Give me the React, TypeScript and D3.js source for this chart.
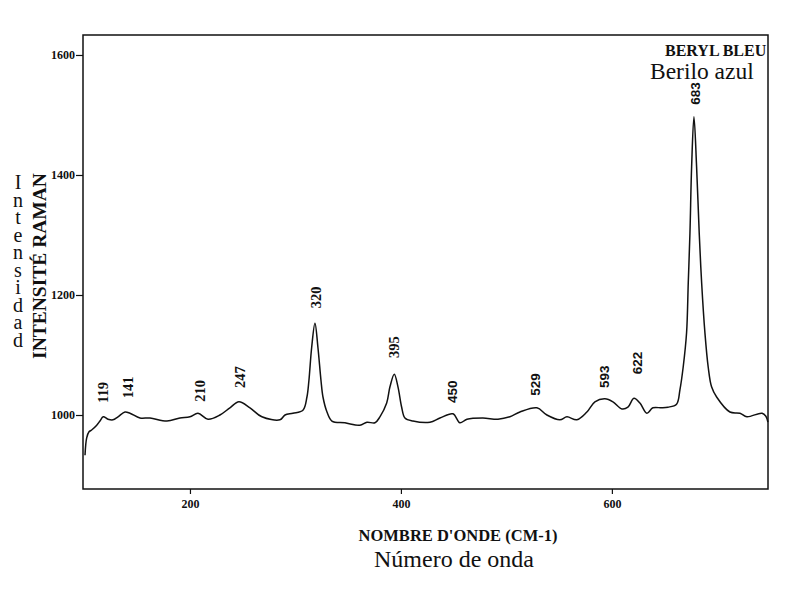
import React, { useRef, useEffect } from 'react';
import * as d3 from 'd3';

// Raman spectrum of blue beryl
const waveNumbers = [
  100.5, 102.1, 104.3, 106.8, 111.6, 114.7, 117.8, 122.3, 127, 131.8, 138.4, 143.1, 152.6, 162.1,
  178.2, 190.5, 200, 207.6, 217.1, 228.4, 237.9, 246.4, 256.9, 268.2, 285.3, 290.1, 297.6, 307.1,
  310.9, 312.8, 315.4, 318.5, 321.3, 324.2, 326.1, 329.9, 334.6, 346.9, 361.1, 367.8, 375.4, 380.1,
  386.5, 389.6, 393.7, 397.2, 400.7, 403.8, 411.4, 427.5, 437, 449.3, 455.9, 462.6, 477.7, 492,
  503.3, 512.8, 528.9, 538.4, 550.7, 557.4, 566.8, 576.3, 583.9, 593.4, 601, 609.5, 615.2, 620.9,
  626.6, 633.2, 638.9, 647.4, 653.1, 661.3, 664.5, 667.6, 670.8, 672.4, 674, 675.6, 677.8, 680.3,
  682.8, 685.1, 688.2, 691.3, 694.5, 699.3, 711.9, 721.4, 728, 742.2, 746, 747.9
];
const intensities = [
  933, 962, 972, 975, 983, 990, 997, 993, 992, 997, 1005, 1003, 995, 995,
  990, 995, 997, 1003, 993, 1000, 1012, 1022, 1012, 997, 992, 1000, 1003, 1008,
  1030, 1058, 1113, 1153, 1113, 1058, 1030, 1005, 990, 987, 983, 988, 987, 997,
  1020, 1047, 1068, 1047, 1013, 995, 990, 988, 995, 1002, 987, 993, 995, 993,
  997, 1005, 1012, 1000, 992, 997, 992, 1005, 1022, 1027, 1022, 1010, 1013, 1028,
  1020, 1003, 1012, 1012, 1013, 1018, 1042, 1080, 1137, 1220, 1303, 1414, 1497, 1414,
  1303, 1220, 1137, 1080, 1047, 1030, 1005, 1003, 997, 1003, 998, 988
];

// peak annotations: text, where it sits on the wavenumber axis, intensity at the text foot
const peakLabels = ['119', '141', '210', '247', '320', '395', '450', '529', '593', '622', '683'];
const peakLabelAt = [117.5, 141.2, 209.5, 247.4, 319.4, 393.4, 448.4, 527, 592.4, 623.7, 678.7];
const peakLabelLevel = [1020, 1028, 1022, 1045, 1178, 1095, 1020, 1032, 1045, 1068, 1517];

const xTicks = [200, 400, 600];
const yTicks = [1000, 1200, 1400, 1600];
const xDomain = [98.6, 748];
const yDomain = [876.7, 1633.3];

const serif = '"Liberation Serif", "Times New Roman", serif';
const narrow = '"Liberation Sans Narrow", "Liberation Sans", Arial, sans-serif';

const App: React.FC = () => {
  const svgRef = useRef<SVGSVGElement>(null);
  const width = 800;
  const height = 589;
  const margin = { top: 35, right: 32, bottom: 100, left: 83 };

  useEffect(() => {
    if (!svgRef.current) return;
    const svg = d3.select(svgRef.current);
    svg.selectAll('*').remove();

    const x = d3.scaleLinear().domain(xDomain).range([margin.left, width - margin.right]);
    const y = d3.scaleLinear().domain(yDomain).range([height - margin.bottom, margin.top]);

    svg.append('rect')
      .attr('width', width)
      .attr('height', height)
      .attr('fill', '#fff');

    // frame
    svg.append('rect')
      .attr('x', margin.left)
      .attr('y', margin.top)
      .attr('width', width - margin.left - margin.right)
      .attr('height', height - margin.top - margin.bottom)
      .attr('fill', 'none')
      .attr('stroke', '#111')
      .attr('stroke-width', 1.5);

    // axes
    const yAxis = svg.append('g')
      .attr('transform', `translate(${margin.left},0)`)
      .call(d3.axisLeft(y).tickValues(yTicks).tickSize(7).tickPadding(1).tickFormat(d3.format('d')));
    yAxis.select('.domain').remove();
    yAxis.selectAll('line').attr('stroke', '#111').attr('stroke-width', 1.2);
    yAxis.selectAll('text')
      .attr('font-family', serif)
      .attr('font-weight', 'bold')
      .attr('font-size', 12)
      .attr('fill', '#111');

    const xAxis = svg.append('g')
      .attr('transform', `translate(0,${height - margin.bottom})`)
      .call(d3.axisBottom(x).tickValues(xTicks).tickSize(5).tickPadding(5).tickFormat(d3.format('d')));
    xAxis.select('.domain').remove();
    xAxis.selectAll('line').attr('stroke', '#111').attr('stroke-width', 1.2);
    xAxis.selectAll('text')
      .attr('font-family', serif)
      .attr('font-weight', 'bold')
      .attr('font-size', 12)
      .attr('fill', '#111');

    // spectrum
    const points: [number, number][] = waveNumbers.map((w, i) => [w, intensities[i]]);
    const line = d3.line<[number, number]>()
      .x(d => x(d[0]))
      .y(d => y(d[1]))
      .curve(d3.curveCatmullRom.alpha(0.5));

    svg.append('path')
      .datum(points)
      .attr('d', line)
      .attr('fill', 'none')
      .attr('stroke', '#111')
      .attr('stroke-width', 1.5)
      .attr('stroke-linejoin', 'round');

    // peak labels
    peakLabels.forEach((label, i) => {
      const px = x(peakLabelAt[i]);
      const py = y(peakLabelLevel[i]);
      svg.append('text')
        .attr('transform', `translate(${px},${py}) rotate(-90)`)
        .attr('dy', '0.35em')
        .attr('text-anchor', 'start')
        .attr('font-family', i < 6 ? serif : narrow)
        .attr('font-weight', 'bold')
        .attr('font-size', i < 6 ? 14.5 : 13.5)
        .attr('fill', '#111')
        .text(label);
    });

    // titles
    svg.append('text')
      .attr('x', 665)
      .attr('y', 56)
      .attr('font-family', serif)
      .attr('font-weight', 'bold')
      .attr('font-size', 16)
      .attr('fill', '#111')
      .text('BERYL BLEU');

    svg.append('text')
      .attr('x', 650)
      .attr('y', 79)
      .attr('font-family', serif)
      .attr('font-size', 23.5)
      .attr('fill', '#111')
      .text('Berilo azul');

    svg.append('text')
      .attr('x', 458)
      .attr('y', 541)
      .attr('text-anchor', 'middle')
      .attr('font-family', serif)
      .attr('font-weight', 'bold')
      .attr('font-size', 16.5)
      .attr('fill', '#111')
      .text("NOMBRE D'ONDE (CM-1)");

    svg.append('text')
      .attr('x', 454)
      .attr('y', 567)
      .attr('text-anchor', 'middle')
      .attr('font-family', serif)
      .attr('font-size', 24)
      .attr('fill', '#111')
      .text('Número de onda');

    svg.append('text')
      .attr('transform', 'translate(46,266) rotate(-90)')
      .attr('text-anchor', 'middle')
      .attr('font-family', serif)
      .attr('font-weight', 'bold')
      .attr('font-size', 19.5)
      .attr('fill', '#111')
      .text('INTENSITÉ RAMAN');

    // vertical stacked "Intensidad"
    const stacked = 'Intensidad'.split('');
    svg.append('g')
      .selectAll('text')
      .data(stacked)
      .enter().append('text')
      .attr('x', 18)
      .attr('y', (_, i) => 189 + i * 17.5)
      .attr('text-anchor', 'middle')
      .attr('font-family', serif)
      .attr('font-size', 20)
      .attr('fill', '#111')
      .text(d => d);
  }, []);

  return (
    <svg
      ref={svgRef}
      width={width}
      height={height}
      style={{ position: 'absolute', left: 0, top: 0, display: 'block' }}
    />
  );
};

export default App;
